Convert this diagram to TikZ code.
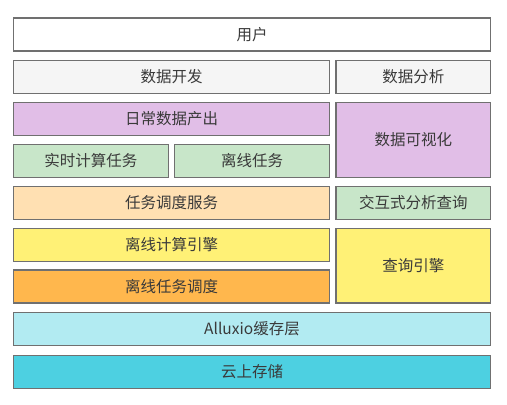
\documentclass[tikz,border=0pt]{standalone}
\usepackage{fontspec}
\newfontfamily\cjk{Noto Sans CJK SC}
\definecolor{edgegray}{HTML}{707070}
\definecolor{textgray}{HTML}{3A3A3A}
\definecolor{usercol}{HTML}{FFFFFF}
\definecolor{devcol}{HTML}{F5F5F5}
\definecolor{purplecol}{HTML}{E1BEE7}
\definecolor{greencol}{HTML}{C8E6C9}
\definecolor{peachcol}{HTML}{FFE0B2}
\definecolor{yellowcol}{HTML}{FFF176}
\definecolor{orangecol}{HTML}{FFB74D}
\definecolor{lightcyan}{HTML}{B2EBF2}
\definecolor{cyancol}{HTML}{4DD0E1}
\tikzset{
  layer/.style={draw=edgegray, line width=1.1pt, inner sep=0pt,
    minimum height=33pt, text=textgray,
    font=\cjk\fontsize{15.5}{16}\selectfont},
  wide/.style={layer, minimum width=477pt},
  left/.style={layer, minimum width=316pt},
  half/.style={layer, minimum width=155pt},
  right/.style={layer, minimum width=154.5pt}
}

\begin{document}
\begin{tikzpicture}[x=1pt,y=-1pt]
\useasboundingbox (0,0) rectangle (507,405);
\node [wide, fill=usercol]   (user)     at (252,34.5)   {用户};
\node [left, fill=devcol]    (dev)      at (171.5,77)   {数据开发};
\node [right, fill=devcol]   (analysis) at (413.25,77)  {数据分析};
\node [left, fill=purplecol] (daily)    at (171.5,119)  {日常数据产出};
\node [half, fill=greencol]  (realtime) at (91,161)     {实时计算任务};
\node [half, fill=greencol]  (offline)  at (252.1,161)  {离线任务};
\node [right, fill=purplecol, minimum height=75pt] (visual) at (413.25,140) {数据可视化};
\node [left, fill=peachcol]  (sched)    at (171.5,202.75) {任务调度服务};
\node [right, fill=greencol] (interact) at (413.25,202.75) {交互式分析查询};
\node [left, fill=yellowcol] (engine)   at (171.5,245)  {离线计算引擎};
\node [left, fill=orangecol] (offsched) at (171.5,286.5) {离线任务调度};
\node [right, fill=yellowcol, minimum height=74.5pt] (query) at (413.25,265.75) {查询引擎};
\node [wide, fill=lightcyan] (alluxio)  at (252,329)    {Alluxio缓存层};
\node [wide, fill=cyancol]   (cloud)    at (252,372)    {云上存储};
\end{tikzpicture}
\end{document}
